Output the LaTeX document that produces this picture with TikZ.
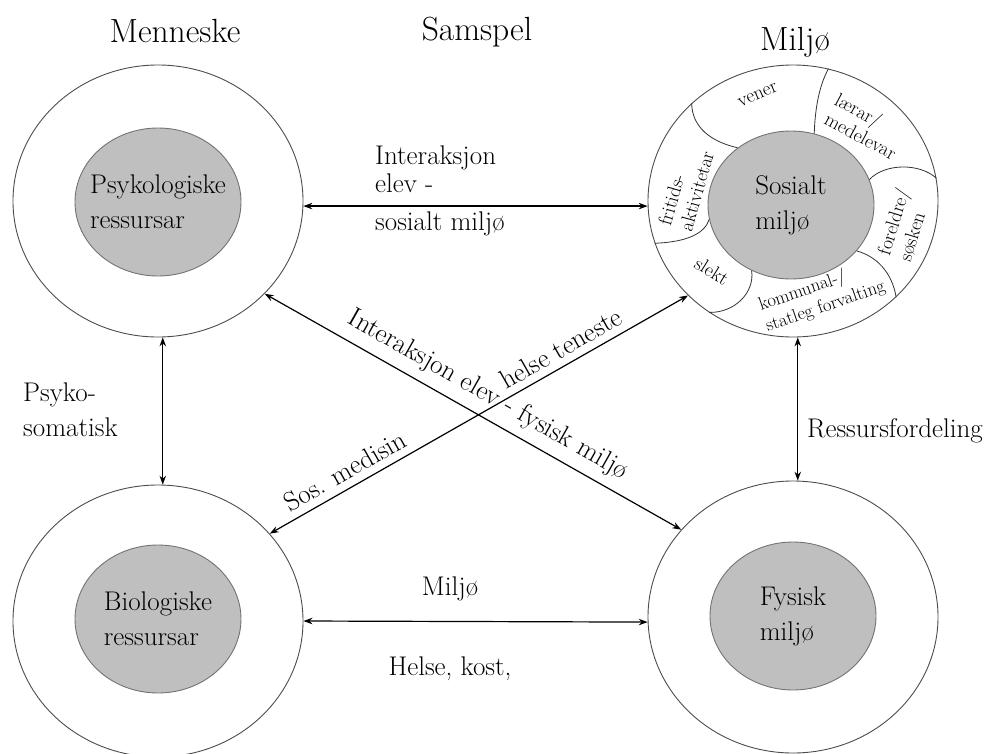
\documentclass[tikz,border=0pt]{standalone}
\usepackage{fontspec}
\usetikzlibrary{shapes.geometric,arrows.meta}

\begin{document}
\begin{tikzpicture}[x=1pt,y=-1pt,
    outer/.style={ellipse,draw=black!70,line width=0.9pt,minimum width=290pt,minimum height=272pt,inner sep=0pt},
    core/.style={ellipse,draw=black!55,fill=black!25,line width=0.9pt,minimum width=166pt,minimum height=148pt,inner sep=0pt},
    big/.style={font=\fontsize{27}{35}\selectfont,align=left,inner sep=0pt},
    head/.style={font=\fontsize{33.5}{40}\selectfont,inner sep=0pt},
    part/.style={font=\fontsize{19.5}{22}\selectfont,align=left,inner sep=0pt},
    seg/.style={draw=black!80,line width=0.8pt},
    arr/.style={{Stealth[length=9pt,width=6.5pt,inset=3pt]}-{Stealth[length=9pt,width=6.5pt,inset=3pt]},line width=1.2pt},
    diag/.style={big,sloped,above,inner xsep=0pt}]

  \useasboundingbox (0,0) rectangle (1007,753);

  \node[head,anchor=base] (MEN) at (175,42) {Menneske};
  \node[head,anchor=base] (SAM) at (477,40) {Samspel};
  \node[head,anchor=base] (MIL) at (795,50) {Miljø};

  \node[outer] (PSY) at (158,201) {};
  \node[outer] (SOS) at (793,201) {};
  \node[outer] (BIO) at (158,621) {};
  \node[outer] (FYS) at (793,617) {};

  \node[core] (PSYI) at (158,202) {};
  \node[core] (SOSI) at (791,205) {};
  \node[core] (BIOI) at (158,619) {};
  \node[core] (FYSI) at (793,616) {};

  \node[big] (PSYT) at (PSYI) {Psykologiske\\ressursar};
  \node[big] (SOST) at (SOSI) {Sosialt\\miljø};
  \node[big] (BIOT) at (BIOI) {Biologiske\\ressursar};
  \node[big] (FYST) at (FYSI) {Fysisk\\miljø};

  % parts of the social environment
  \draw[seg] (SOSI.133) .. controls (712,142) and (692,128) .. (SOS.136);
  \draw[seg] (SOSI.72) .. controls (815,112) and (818,88) .. (SOS.75);
  \draw[seg] (SOSI.18) .. controls (885,163) and (920,163) .. (SOS.9);
  \draw[seg] (SOSI.-35) .. controls (876,256) and (892,272) .. (SOS.-43);
  \draw[seg] (SOSI.-121.5) .. controls (755,292) and (735,313) .. (SOS.-127.8);
  \draw[seg] (SOSI.190.6) .. controls (705,233) and (688,242) .. (SOS.197.2);

  \node[part,rotate=24] (VEN) at (758,95) {vener};
  \node[part,rotate=-28] (LAE) at (866,126) {lærar/\\medelevar};
  \node[part,rotate=74] (FRI) at (686,188) {fritids-\\aktivitetar};
  \node[part,rotate=73] (FOR) at (904,225) {foreldre/\\søsken};
  \node[part,font=\fontsize{18.5}{22}\selectfont,rotate=19] (KOM) at (822,296) {kommunal-/\\statleg forvalting};
  \node[part,rotate=-32] (SLE) at (712,271) {slekt};

  \draw[arr] (PSY.-2) -- (SOS.182);
  \draw[arr] (BIO.east) -- (FYS.182);
  \draw[arr] (PSY.-88) -- (BIO.88);
  \draw[arr] (SOS.-88) -- (FYS.88);
  \draw[arr] (PSY.-41) -- node[diag,pos=0.51,inner ysep=9pt] (IEF) {Interaksjon elev - fysisk miljø} (FYS.142);
  \draw[arr] (BIO.38) -- node[diag,pos=0.2,inner ysep=7pt] (SMD) {Sos. medisin}
    node[diag,pos=0.716,inner ysep=7pt] (HTE) {helse teneste} (SOS.-138);

  \node[big,font=\fontsize{27}{28}\selectfont,anchor=north west] (IES) at (375,146) {Interaksjon\\elev -};
  \node[big,anchor=base west] (SMI) at (375,230) {sosialt miljø};
  \node[big,anchor=base] (MLJ) at (450,595) {Miljø};
  \node[big,anchor=base] (HKO) at (450,675) {Helse, kost,};
  \node[big,anchor=north west] (PSO) at (23,383) {Psyko-\\somatisk};
  \node[big,anchor=base west] (RES) at (807,437) {Ressursfordeling};

\end{tikzpicture}
\end{document}
